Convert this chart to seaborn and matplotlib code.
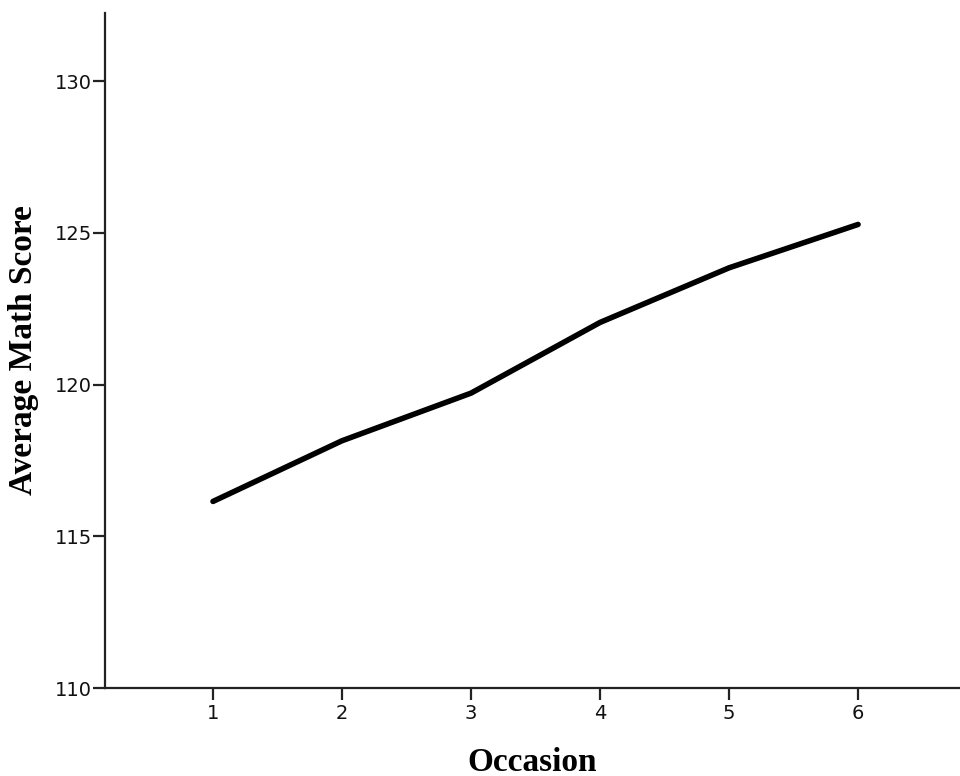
import pandas as pd
import matplotlib
matplotlib.use("Agg")
import matplotlib.pyplot as plt
import seaborn as sns

occasion = [1, 2, 3, 4, 5, 6]
avg_math_score = [116.15, 118.15, 119.72, 122.05, 123.85, 125.28]
y_ticks = [110, 115, 120, 125, 130]

df = pd.DataFrame({"Occasion": occasion, "Average Math Score": avg_math_score})

sns.set_style("ticks")
plt.rcParams["font.family"] = ["DejaVu Sans"]

fig = plt.figure(figsize=(9.6, 7.76), dpi=100)
ax = fig.add_axes([105 / 960, 1 - 688 / 776, 1 - 105 / 960, (688 - 13) / 776])

sns.lineplot(data=df, x="Occasion", y="Average Math Score", color="black",
             linewidth=4.0, ax=ax)

ax.set_xlim(0.163, 6.79)
ax.set_ylim(110, 132.25)
ax.set_xticks(occasion)
ax.set_yticks(y_ticks)

for side in ["top", "right"]:
    ax.spines[side].set_visible(False)
for side in ["left", "bottom"]:
    ax.spines[side].set_linewidth(1.6)
    ax.spines[side].set_color("#222222")

ax.tick_params(axis="both", direction="out", length=8.5, width=1.6,
               color="#222222", labelsize=14, labelcolor="#111111")
ax.tick_params(axis="y", pad=1)
ax.tick_params(axis="x", pad=3)

label_font = dict(family=["Liberation Serif", "DejaVu Serif"],
                  fontweight="bold", fontsize=24, color="black")
ax.set_xlabel("Occasion", labelpad=17, **label_font)
ax.set_ylabel("Average Math Score", labelpad=11, **label_font)

fig.savefig("out.png", dpi=100)
